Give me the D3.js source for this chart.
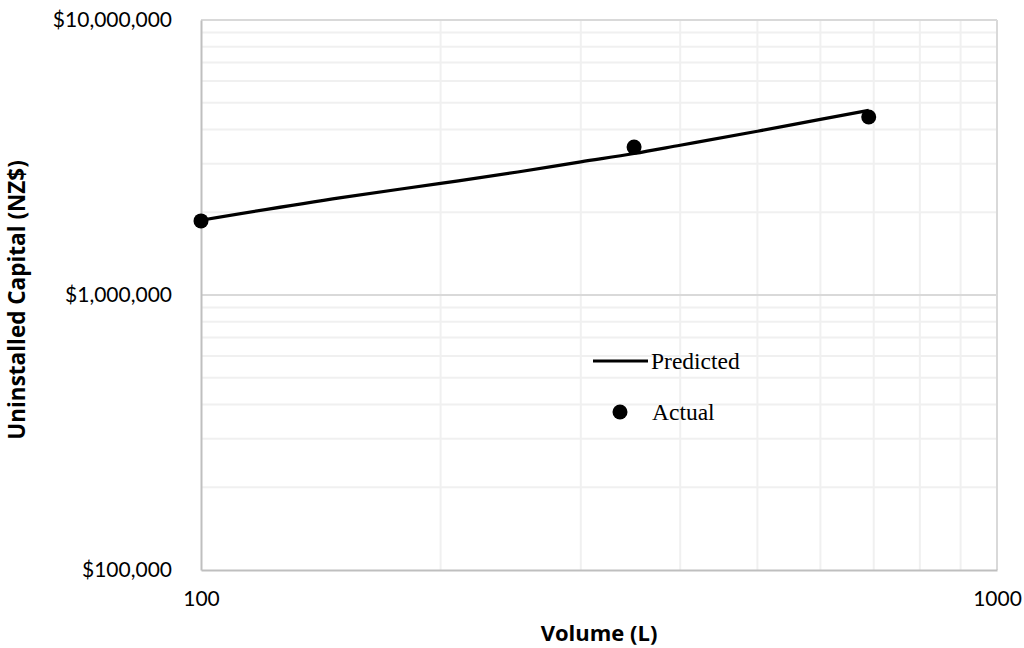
<!DOCTYPE html>
<html><head><meta charset="utf-8">
<script src="https://cdn.jsdelivr.net/npm/d3@7"></script>
<style>body{margin:0;background:#fff}svg{display:block}</style>
</head><body><svg id="c" width="1024" height="648"></svg>
<script>
const predictedX = [100,150,200,250,300,350,400,500,600,690];
const predictedY = [1870000,2260000,2546000,2800000,3050000,3270000,3505000,3940000,4350000,4690000];
const actualX = [100,350,690];
const actualY = [1860000,3450000,4440000];
const xTicks = [100,1000];
const yTicks = [100000,1000000,10000000];
const xMinor = [200,300,400,500,600,700,800,900];
const yMinor = [2e5,3e5,4e5,5e5,6e5,7e5,8e5,9e5,2e6,3e6,4e6,5e6,6e6,7e6,8e6,9e6];

const L=201,R=997,T=20,B=570;
const svg=d3.select("#c");
const x=d3.scaleLog().domain([100,1000]).range([L,R]);
const y=d3.scaleLog().domain([100000,10000000]).range([B,T]);

// minor grid
svg.append("g").selectAll("line").data(xMinor).join("line")
 .attr("x1",d=>x(d)).attr("x2",d=>x(d)).attr("y1",T).attr("y2",B)
 .attr("stroke","#f0f0f0").attr("stroke-width",2);
svg.append("g").selectAll("line").data(yMinor).join("line")
 .attr("y1",d=>y(d)).attr("y2",d=>y(d)).attr("x1",L).attr("x2",R)
 .attr("stroke","#f0f0f0").attr("stroke-width",2);
// major grid
svg.append("g").selectAll("line").data(yTicks.slice(1)).join("line")
 .attr("y1",d=>y(d)).attr("y2",d=>y(d)).attr("x1",L).attr("x2",R)
 .attr("stroke","#d9d9d9").attr("stroke-width",2);
svg.append("g").selectAll("line").data(xTicks.slice(1)).join("line")
 .attr("x1",d=>x(d)).attr("x2",d=>x(d)).attr("y1",T).attr("y2",B)
 .attr("stroke","#d9d9d9").attr("stroke-width",2);

// axes
const fmt=d=>"$"+d3.format(",")(d);
const yAxis=svg.append("g").attr("transform",`translate(${L},0)`)
 .call(d3.axisLeft(y).tickValues(yTicks).tickFormat(fmt).tickSize(0).tickPadding(29));
yAxis.select(".domain").attr("stroke","#bfbfbf").attr("stroke-width",2);
yAxis.selectAll("text").attr("font-family","Lato, 'Open Sans', sans-serif").attr("font-size",21).attr("fill","#000");
const xAxis=svg.append("g").attr("transform",`translate(0,${B})`)
 .call(d3.axisBottom(x).tickValues(xTicks).tickFormat(d3.format("d")).tickSize(0).tickPadding(21));
xAxis.select(".domain").attr("stroke","#bfbfbf").attr("stroke-width",2);
xAxis.selectAll("text").attr("font-family","Lato, 'Open Sans', sans-serif").attr("font-size",21).attr("fill","#000");

// predicted line
const line=d3.line().x((d,i)=>x(predictedX[i])).y(d=>y(d)).curve(d3.curveMonotoneX);
svg.append("path").datum(predictedY).attr("d",line).attr("fill","none").attr("stroke","#000").attr("stroke-width",3.2);
// actual points
svg.append("g").selectAll("circle").data(actualY).join("circle")
 .attr("cx",(d,i)=>x(actualX[i])).attr("cy",d=>y(d)).attr("r",7.5).attr("fill","#000");

// legend
const lg=svg.append("g");
lg.append("line").attr("x1",593).attr("x2",648).attr("y1",361).attr("y2",361).attr("stroke","#000").attr("stroke-width",3.2);
lg.append("text").attr("x",651).attr("y",369).text("Predicted").attr("font-family","'Liberation Serif', serif").attr("font-size",23.5);
lg.append("circle").attr("cx",620).attr("cy",412).attr("r",7.5).attr("fill","#000");
lg.append("text").attr("x",652).attr("y",420).text("Actual").attr("font-family","'Liberation Serif', serif").attr("font-size",23.5);

// axis titles
svg.append("text").attr("x",599).attr("y",641).attr("text-anchor","middle")
 .attr("font-family","'Open Sans', sans-serif").attr("font-weight","bold").attr("font-size",22).text("Volume (L)");
svg.append("text").attr("transform","translate(25,300) rotate(-90)").attr("text-anchor","middle")
 .attr("font-family","'Open Sans', sans-serif").attr("font-weight","bold").attr("font-size",22.5).text("Uninstalled Capital (NZ$)");
</script></body></html>
